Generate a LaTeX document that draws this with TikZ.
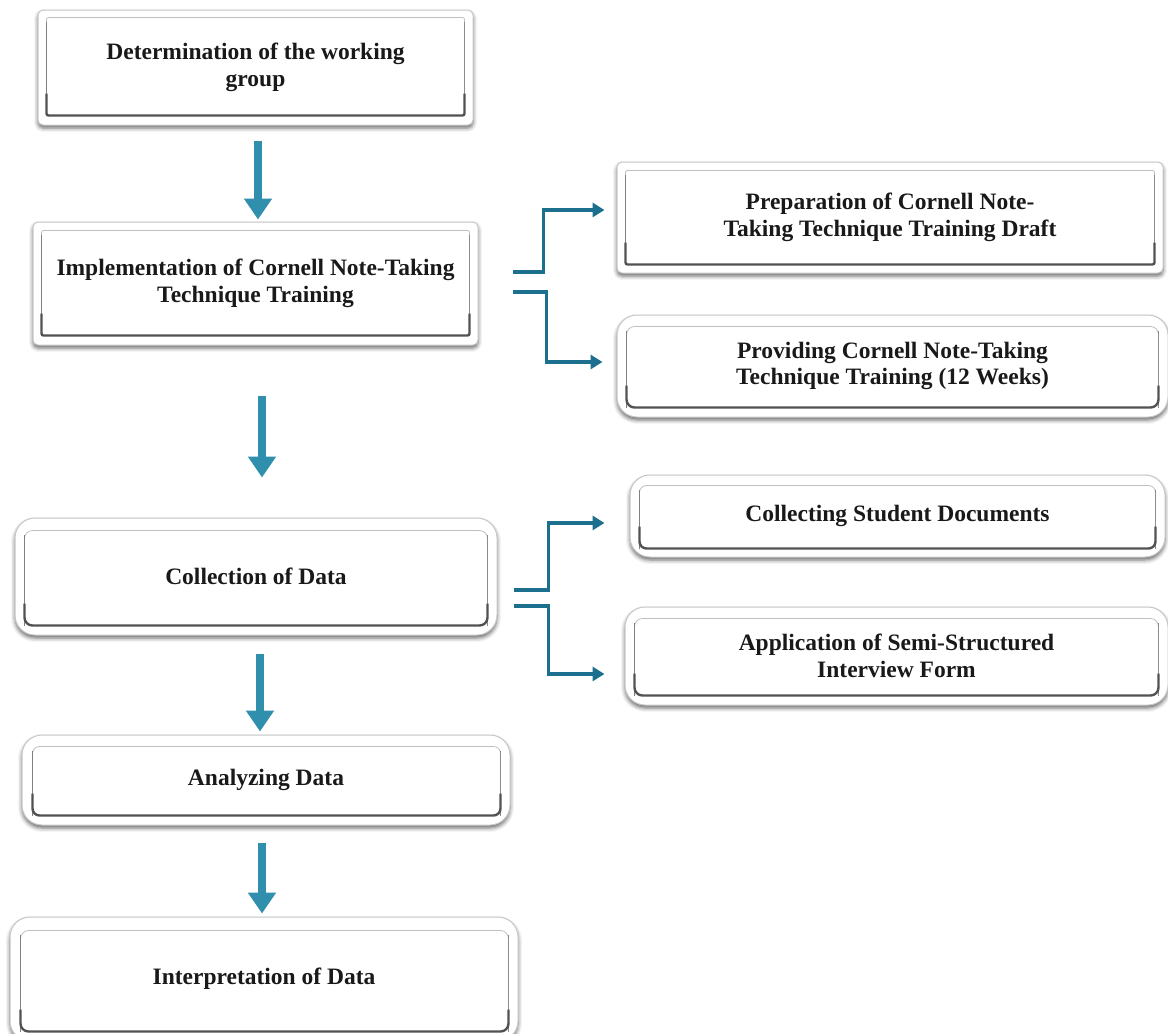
\documentclass[tikz,border=0pt]{standalone}
\usepackage{fontspec}
\setmainfont{Liberation Serif}
\usetikzlibrary{arrows.meta,shadows.blur,calc}
\definecolor{tealdark}{RGB}{28,112,142}
\definecolor{teallight}{RGB}{48,143,172}
\definecolor{txt}{RGB}{25,25,25}
\newcommand\innerframe[6]{%
  \draw[black!25, line width=0.8pt, rounded corners=#6]
    ([shift={(#2,#3)}]#1.north west) rectangle ([shift={(-#4,-#5)}]#1.south east);
  \draw[black!50, line width=1.3pt, rounded corners=#6]
    ([shift={(#2,#3+4)}]#1.north west) -- ([shift={(#2,-#5)}]#1.south west);
  \draw[black!45, line width=1.3pt, rounded corners=#6]
    ([shift={(-#4,#3+4)}]#1.north east) -- ([shift={(-#4,-#5)}]#1.south east);
  \draw[black!68, line width=2.4pt, rounded corners=#6]
    ([shift={(#2,-#5-22)}]#1.south west) |- ([shift={(-#4,-#5)}]#1.south east) -- ([shift={(-#4,-#5-22)}]#1.south east);
}
\tikzset{
  sqbox/.style={draw=black!22, line width=1pt, fill=white, rounded corners=5pt,
    blur shadow={shadow xshift=0pt, shadow yshift=-3pt, shadow blur radius=4pt, shadow opacity=60},
    align=center, text=txt, inner sep=0pt,
    font=\fontsize{23.5}{26.5}\selectfont\bfseries},
  rdbox/.style={sqbox, rounded corners=20pt},
  downarr/.style={draw=teallight, line width=8pt, -{Triangle[width=27pt,length=21pt]}},
  branch/.style={draw=tealdark, line width=3.6pt, -{Triangle[width=14pt,length=12pt]}}
}
\begin{document}
\begin{tikzpicture}[x=1pt,y=-1pt]
\useasboundingbox (0,0) rectangle (1168,1034);

% main column
\node[sqbox, minimum width=435pt, minimum height=115pt] (b1) at (255.5,67.5)
  {Determination of the working\\group};
\innerframe{b1}{9}{8}{9}{10}{2pt}

\node[sqbox, minimum width=445pt, minimum height=123pt] (b2) at (255.5,283.5)
  {Implementation of Cornell Note-Taking\\Technique Training};
\innerframe{b2}{9}{9}{9}{10}{2pt}

\node[rdbox, minimum width=482pt, minimum height=117pt] (b3) at (256,576.5)
  {Collection of Data};
\innerframe{b3}{10}{13}{10}{10}{8pt}

\node[rdbox, minimum width=488pt, minimum height=90pt] (b4) at (266,780)
  {Analyzing Data};
\innerframe{b4}{11}{12}{10}{10}{7pt}

\node[rdbox, minimum width=508pt, minimum height=124pt] (b5) at (264,979)
  {Interpretation of Data};
\innerframe{b5}{11}{14}{10}{10}{8pt}

% right column
\node[sqbox, minimum width=546pt, minimum height=111pt] (bA) at (890,217.5)
  {Preparation of Cornell Note-\\Taking Technique Training Draft};
\innerframe{bA}{9}{9}{9}{9}{2pt}

\node[rdbox, minimum width=551pt, minimum height=102pt] (bB) at (892.5,366)
  {Providing Cornell Note-Taking\\Technique Training (12 Weeks)};
\innerframe{bB}{10}{12}{10}{10}{8pt}

\node[rdbox, minimum width=535pt, minimum height=82pt] (bC) at (897.5,516)
  {Collecting Student Documents};
\innerframe{bC}{10}{11}{10}{9}{7pt}

\node[rdbox, minimum width=543pt, minimum height=98pt] (bD) at (896.5,656)
  {Application of Semi-Structured\\Interview Form};
\innerframe{bD}{10}{12}{10}{10}{8pt}

% down arrows
\coordinate (a1) at ($(b1.south)+(2.5,0)$);
\draw[downarr, shorten <=15pt, shorten >=2pt] (a1) -- (a1 |- b2.north);
\coordinate (a2) at ($(b2.south)+(6.5,0)$);
\draw[downarr, shorten <=50pt, shorten >=40pt] (a2) -- (a2 |- b3.north);
\coordinate (a3) at ($(b3.south)+(4,0)$);
\draw[downarr, shorten <=18pt, shorten >=3pt] (a3) -- (a3 |- b4.north);
\coordinate (a4) at ($(b4.south)+(-4,0)$);
\draw[downarr, shorten <=17pt, shorten >=3pt] (a4) -- (a4 |- b5.north);

% branch connectors
\draw[branch] ([shift={(34,-11.5)}]b2.east) -- ++(31,0) |- ([shift={(-12,-7.5)}]bA.west);
\draw[branch] ([shift={(34,8.5)}]b2.east) -- ++(34,0) |- ([shift={(-14,-4)}]bB.west);
\draw[branch] ([shift={(16,13.5)}]b3.east) -- ++(35,0) |- ([shift={(-25,7)}]bC.west);
\draw[branch] ([shift={(16,29.5)}]b3.east) -- ++(35,0) |- ([shift={(-20,18)}]bD.west);
\end{tikzpicture}
\end{document}
